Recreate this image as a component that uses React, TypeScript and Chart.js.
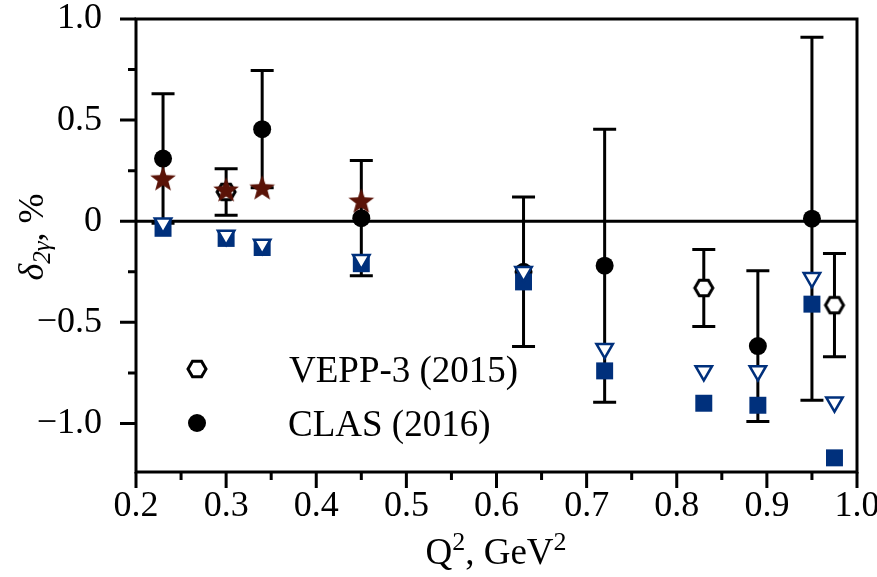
import React, { useEffect, useRef } from "react";
import { Chart, registerables } from "chart.js";
Chart.register(...registerables);

// ---- data ----
const q2Clas = [0.23, 0.34, 0.45, 0.63, 0.72, 0.89, 0.95];
const deltaClas = [0.31, 0.455, 0.015, -0.25, -0.22, -0.6175, 0.0125];
const errClas = [0.32, 0.29, 0.285, 0.37, 0.675, 0.3725, 0.8975];

const q2Vepp = [0.3, 0.83, 0.975];
const deltaVepp = [0.145, -0.33, -0.415];
const errVepp = [0.115, 0.19, 0.255];

const q2Star = [0.23, 0.3, 0.34, 0.45];
const deltaStar = [0.21, 0.155, 0.165, 0.1];

const q2Calc = [0.23, 0.3, 0.34, 0.45, 0.63, 0.72, 0.83, 0.89, 0.95, 0.975];
const deltaSquare = [-0.035, -0.085, -0.13, -0.21, -0.3, -0.74, -0.9, -0.91, -0.41, -1.17];
const deltaTriangle = [-0.01, -0.07, -0.115, -0.19, -0.25, -0.63, -0.74, -0.74, -0.28, -0.895];

const xMajorTicks = [0.2, 0.3, 0.4, 0.5, 0.6, 0.7, 0.8, 0.9, 1.0];
const yMajorTicks = [-1.0, -0.5, 0, 0.5, 1.0];
const legendLabels = ["VEPP-3 (2015)", "CLAS (2016)"];

const SERIF = '"Liberation Serif", "DejaVu Serif", serif';
const BLUE = "#00307c";
const STAR = "#5a1307";

function makeStar(): HTMLCanvasElement {
  const c = document.createElement("canvas");
  c.width = 28;
  c.height = 28;
  const ctx = c.getContext("2d")!;
  const R = 13.5, r = 5.6;
  ctx.beginPath();
  for (let i = 0; i < 10; i++) {
    const a = -Math.PI / 2 + (i * Math.PI) / 5;
    const rad = i % 2 === 0 ? R : r;
    const x = 14 + rad * Math.cos(a);
    const y = 14.8 + rad * Math.sin(a);
    if (i === 0) ctx.moveTo(x, y);
    else ctx.lineTo(x, y);
  }
  ctx.closePath();
  ctx.fillStyle = STAR;
  ctx.fill();
  return c;
}

function hexPath(ctx: CanvasRenderingContext2D, cx: number, cy: number, r: number) {
  ctx.beginPath();
  for (let i = 0; i < 6; i++) {
    const a = (i * Math.PI) / 3;
    const x = cx + r * Math.cos(a);
    const y = cy + r * Math.sin(a);
    if (i === 0) ctx.moveTo(x, y);
    else ctx.lineTo(x, y);
  }
  ctx.closePath();
}

function makeHex(): HTMLCanvasElement {
  const c = document.createElement("canvas");
  c.width = 24;
  c.height = 24;
  const ctx = c.getContext("2d")!;
  hexPath(ctx, 12, 12, 9);
  ctx.fillStyle = "#ffffff";
  ctx.fill();
  ctx.lineWidth = 3;
  ctx.strokeStyle = "#000";
  ctx.stroke();
  return c;
}

const decorPlugin = {
  id: "decor",
  beforeDatasetsDraw(chart: any) {
    const { ctx, chartArea: a, scales } = chart;
    const xs = scales.x, ys = scales.y;
    ctx.save();
    ctx.strokeStyle = "#000";
    ctx.lineWidth = 3;
    // zero line
    const y0 = ys.getPixelForValue(0);
    ctx.beginPath();
    ctx.moveTo(a.left, y0);
    ctx.lineTo(a.right, y0);
    ctx.stroke();
    // error bars
    const bars = (qs: number[], vs: number[], es: number[]) => {
      qs.forEach((q, i) => {
        const x = xs.getPixelForValue(q);
        const yt = ys.getPixelForValue(vs[i] + es[i]);
        const yb = ys.getPixelForValue(vs[i] - es[i]);
        ctx.beginPath();
        ctx.moveTo(x, yt);
        ctx.lineTo(x, yb);
        ctx.moveTo(x - 11.5, yt);
        ctx.lineTo(x + 11.5, yt);
        ctx.moveTo(x - 11.5, yb);
        ctx.lineTo(x + 11.5, yb);
        ctx.stroke();
      });
    };
    bars(q2Clas, deltaClas, errClas);
    bars(q2Vepp, deltaVepp, errVepp);
    ctx.restore();
  },
  afterDraw(chart: any) {
    const { ctx, chartArea: a, scales } = chart;
    const xs = scales.x, ys = scales.y;
    ctx.save();
    ctx.strokeStyle = "#000";
    ctx.lineWidth = 3;
    ctx.strokeRect(a.left, a.top, a.right - a.left, a.bottom - a.top);
    // ticks (outward)
    ctx.beginPath();
    for (let v = 0.2; v <= 1.0001; v += 0.05) {
      const x = xs.getPixelForValue(v);
      const major = Math.abs(v * 10 - Math.round(v * 10)) < 1e-6;
      ctx.moveTo(x, a.bottom);
      ctx.lineTo(x, a.bottom + (major ? 16 : 8));
    }
    for (let v = -1.0; v <= 1.0001; v += 0.25) {
      const y = ys.getPixelForValue(v);
      const major = Math.abs(v * 2 - Math.round(v * 2)) < 1e-6;
      ctx.moveTo(a.left, y);
      ctx.lineTo(a.left - (major ? 16 : 8), y);
    }
    ctx.stroke();

    // x title with superscripts
    const main = `37px ${SERIF}`;
    const sup = `26px ${SERIF}`;
    const parts: [string, string, number][] = [
      ["Q", main, 0],
      ["2", sup, -14],
      [", GeV", main, 0],
      ["2", sup, -14],
    ];
    let total = 0;
    parts.forEach(([t, f]) => {
      ctx.font = f;
      total += ctx.measureText(t).width;
    });
    let x = 496 - total / 2;
    const base = 564;
    ctx.fillStyle = "#000";
    ctx.textBaseline = "alphabetic";
    ctx.textAlign = "left";
    parts.forEach(([t, f, dy]) => {
      ctx.font = f;
      ctx.fillText(t, x, base + dy);
      x += ctx.measureText(t).width;
    });

    // y title rotated
    const yparts: [string, string, number][] = [
      ["δ", `italic 36px ${SERIF}`, 0],
      ["2γ", `italic 25px ${SERIF}`, 7],
      [", %", `36px ${SERIF}`, 0],
    ];
    let ytot = 0;
    yparts.forEach(([t, f]) => {
      ctx.font = f;
      ytot += ctx.measureText(t).width;
    });
    ctx.save();
    ctx.translate(43, 237);
    ctx.rotate(-Math.PI / 2);
    let xx = -ytot / 2;
    yparts.forEach(([t, f, dy]) => {
      ctx.font = f;
      ctx.fillText(t, xx, dy);
      xx += ctx.measureText(t).width;
    });
    ctx.restore();

    // legend
    ctx.lineWidth = 3;
    hexPath(ctx, 197, 369, 9);
    ctx.fillStyle = "#fff";
    ctx.fill();
    ctx.stroke();
    ctx.beginPath();
    ctx.arc(197, 423, 9, 0, Math.PI * 2);
    ctx.fillStyle = "#000";
    ctx.fill();
    ctx.font = `37px ${SERIF}`;
    ctx.textBaseline = "alphabetic";
    ctx.fillText(legendLabels[0], 289, 382);
    ctx.fillText(legendLabels[1], 288, 436);
    ctx.restore();
  },
};

export default function App() {
  const ref = useRef<HTMLCanvasElement>(null);
  useEffect(() => {
    document.body.style.margin = "0";
    const starImg = makeStar();
    const hexImg = makeHex();
    const pts = (qs: number[], vs: number[]) => qs.map((q, i) => ({ x: q, y: vs[i] }));
    const chart = new Chart(ref.current!, {
      type: "scatter",
      data: {
        datasets: [
          {
            label: "triangle",
            data: pts(q2Calc, deltaTriangle),
            pointStyle: "triangle",
            rotation: 180,
            pointRadius: 9.5,
            backgroundColor: "#ffffff",
            borderColor: BLUE,
            borderWidth: 2.5,
            order: 0,
          },
          {
            label: "square",
            data: pts(q2Calc, deltaSquare),
            pointStyle: "rect",
            pointRadius: 12,
            backgroundColor: BLUE,
            borderColor: BLUE,
            borderWidth: 0,
            order: 1,
          },
          {
            label: "star",
            data: pts(q2Star, deltaStar),
            pointStyle: starImg,
            pointRadius: 13,
            order: 2,
          },
          {
            label: legendLabels[1],
            data: pts(q2Clas, deltaClas),
            pointStyle: "circle",
            pointRadius: 9,
            backgroundColor: "#000",
            borderColor: "#000",
            borderWidth: 0,
            order: 3,
          },
          {
            label: legendLabels[0],
            data: pts(q2Vepp, deltaVepp),
            pointStyle: hexImg,
            pointRadius: 10,
            order: 4,
          },
        ],
      },
      options: {
        animation: false,
        responsive: false,
        devicePixelRatio: 1,
        layout: { padding: { top: 19, right: 20, left: 0, bottom: 0 } },
        plugins: { legend: { display: false }, tooltip: { enabled: false } },
        scales: {
          x: {
            type: "linear",
            min: 0.2,
            max: 1.0,
            afterBuildTicks: (s: any) => {
              s.ticks = xMajorTicks.map((v) => ({ value: v }));
            },
            ticks: {
              callback: (v: any) => Number(v).toFixed(1),
              font: { family: SERIF, size: 36 },
              color: "#000",
              padding: 5,
              maxRotation: 0,
              autoSkip: false,
            },
            grid: { display: false },
            border: { display: false },
            afterFit: (s: any) => {
              s.height = 105;
              s.paddingLeft = 0;
              s.paddingRight = 0;
            },
          },
          y: {
            type: "linear",
            min: -1.24,
            max: 1.0,
            afterBuildTicks: (s: any) => {
              s.ticks = yMajorTicks.map((v) => ({ value: v }));
            },
            ticks: {
              callback: (v: any) => {
                const n = Number(v);
                if (Math.abs(n) < 1e-9) return "0";
                return (n < 0 ? "\u2212" : "") + Math.abs(n).toFixed(1);
              },
              font: { family: SERIF, size: 36 },
              color: "#000",
              padding: 26,
              autoSkip: false,
            },
            grid: { display: false },
            border: { display: false },
            afterFit: (s: any) => {
              s.width = 136;
              s.paddingTop = 0;
              s.paddingBottom = 0;
            },
          },
        },
      },
      plugins: [decorPlugin],
    });
    return () => chart.destroy();
  }, []);
  return <canvas ref={ref} width={877} height={577} />;
}
